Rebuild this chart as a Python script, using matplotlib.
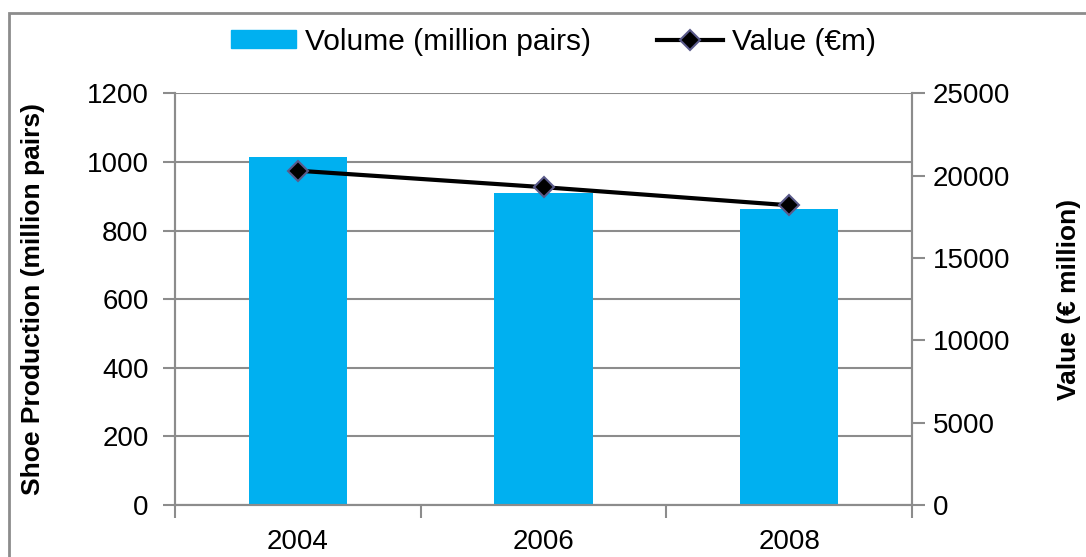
import matplotlib.pyplot as plt
from matplotlib.patches import Rectangle
from matplotlib.lines import Line2D
import numpy as np

years = ['2004', '2006', '2008']
volume = [1014, 910, 863]          # million pairs
value = [20300, 19300, 18200]      # EUR million

plt.rcParams['font.family'] = ['Liberation Sans', 'DejaVu Sans']

fig = plt.figure(figsize=(10.86, 5.57), dpi=100)
ax = fig.add_axes([175 / 1086, 1 - 505 / 557, 737 / 1086, (505 - 93.3) / 557])
ax2 = ax.twinx()

grey = '#8c8c8c'
fs = 20
x = np.arange(len(years))

ax.set_axisbelow(True)
ax.yaxis.grid(True, color=grey, linewidth=1.5)
ax.bar(x, volume, width=0.4, color='#00b0f0', zorder=2)
ax2.plot(x, value, color='black', linewidth=3, marker='D', markersize=10,
         markerfacecolor='black', markeredgecolor='#5a5a8a', markeredgewidth=1.5,
         zorder=3)

ax.set_xlim(-0.5, 2.5)
ax.set_ylim(0, 1200)
ax.set_yticks(range(0, 1201, 200))
ax2.set_ylim(0, 25000)
ax2.set_yticks(range(0, 25001, 5000))

ax.set_xticks(x)
ax.set_xticklabels(years)
ax.set_xticks([-0.5, 0.5, 1.5, 2.5], minor=True)
ax.tick_params(axis='x', which='major', length=0, labelsize=fs, pad=17)
ax.tick_params(axis='x', which='minor', length=9, width=1.5, color=grey)
ax.tick_params(axis='y', length=9, width=1.5, color=grey, labelsize=fs, pad=10)
ax2.tick_params(axis='y', length=9, width=1.5, color=grey, labelsize=fs, pad=6)

for a in (ax, ax2):
    a.spines['top'].set_visible(False)
    for s in ('left', 'right', 'bottom'):
        a.spines[s].set_color(grey)
        a.spines[s].set_linewidth(1.5)

ax.set_ylabel('Shoe Production (million pairs)', fontsize=19, fontweight='bold')
ax.yaxis.set_label_coords((45 - 175) / 737, 0.5)
ax2.set_ylabel('Value (\u20ac million)', fontsize=19, fontweight='bold', rotation=90)
ax2.yaxis.set_label_coords((1057 - 175) / 737, 0.5)

handles = [Rectangle((0, 0), 1, 1, color='#00b0f0'),
           Line2D([], [], color='black', linewidth=3, marker='D', markersize=10,
                  markerfacecolor='black', markeredgecolor='#5a5a8a', markeredgewidth=1.5)]
fig.legend(handles, ['Volume (million pairs)', 'Value (\u20acm)'], ncol=2,
           loc='center', bbox_to_anchor=(553 / 1086, 1 - 42 / 557), frameon=False,
           fontsize=21.5, handlelength=2.2, handleheight=0.55, columnspacing=2.2,
           handletextpad=0.3)

# outer chart frame
fig.patches.append(Rectangle((9 / 1086, -0.1), 1.2, 1.1 - 13 / 557,
                             transform=fig.transFigure, fill=False,
                             edgecolor=grey, linewidth=2))

fig.savefig('out.png', dpi=100)
